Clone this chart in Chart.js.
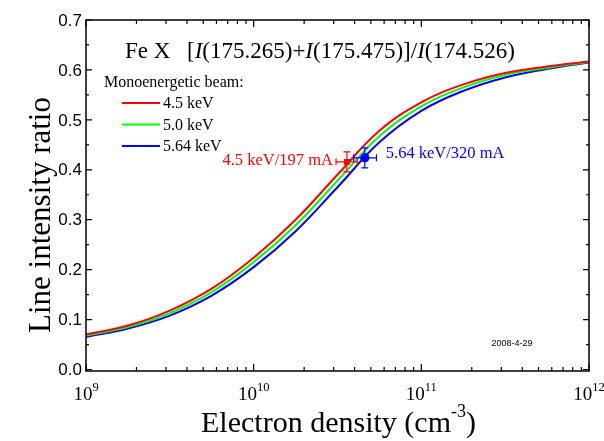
<!DOCTYPE html>
<html>
<head>
<meta charset="utf-8">
<script src="https://cdn.jsdelivr.net/npm/chart.js@4.4.1/dist/chart.umd.min.js"></script>
<style>
  html, body { margin: 0; padding: 0; background: #fff; }
  #wrap { width: 604px; height: 441px; }
</style>
</head>
<body>
<div id="wrap"><canvas id="ratio-chart"></canvas></div>
<script>
// electron density (cm^-3), quarter-decade steps
const density = [1e9, 1.78e9, 3.16e9, 5.62e9, 1e10, 1.78e10, 3.16e10, 5.62e10, 1e11, 1.78e11, 3.16e11, 5.62e11, 1e12];

// line intensity ratio for each beam energy
const ratio45 = [0.070, 0.088, 0.118, 0.162, 0.224, 0.300, 0.390, 0.478, 0.535, 0.571, 0.594, 0.607, 0.617];
const ratio50 = [0.068, 0.085, 0.113, 0.155, 0.215, 0.289, 0.378, 0.467, 0.527, 0.565, 0.590, 0.604, 0.616];
const ratio564 = [0.065, 0.082, 0.108, 0.148, 0.205, 0.277, 0.365, 0.455, 0.518, 0.558, 0.585, 0.602, 0.615];

const beamLabels = ['4.5 keV', '5.0 keV', '5.64 keV'];
const beamColors = ['#ff0000', '#00ff00', '#0000ff'];

// measured points with error bars
const measLabels = ['4.5 keV/197 mA', '5.64 keV/320 mA'];
const measColors = ['#ff0000', '#0000ff'];
const measDensity = [3.6e10, 4.6e10];
const measDensityLow = [3.1e10, 3.95e10];
const measDensityHigh = [4.15e10, 5.4e10];
const measRatio = [0.416, 0.424];
const measRatioErr = [0.02, 0.02];

const yTicks = [0.0, 0.1, 0.2, 0.3, 0.4, 0.5, 0.6, 0.7];
const xTickExp = [9, 10, 11, 12];

const SERIF = '"Liberation Serif", "Times New Roman", serif';
const SANS = '"Liberation Sans", Arial, sans-serif';

function toPoints(ys) {
  return density.map((d, i) => ({ x: d, y: ys[i] }));
}

const datasets = [ratio45, ratio50, ratio564].map((ys, i) => ({
  label: beamLabels[i],
  data: toPoints(ys),
  borderColor: beamColors[i],
  borderWidth: 2,
  pointRadius: 0,
  fill: false,
  tension: 0.4
}));

measDensity.forEach((d, i) => {
  datasets.push({
    label: measLabels[i],
    data: [{ x: d, y: measRatio[i] }],
    showLine: false,
    pointStyle: i === 0 ? 'rect' : 'circle',
    pointRadius: i === 0 ? 4 : 4.5,
    backgroundColor: measColors[i],
    borderColor: measColors[i],
    borderWidth: 0
  });
});

// mixed-style text: parts = [[text, font], ...]
function drawParts(ctx, parts, x, y) {
  parts.forEach(p => {
    ctx.font = p[1];
    ctx.fillText(p[0], x, y);
    x += ctx.measureText(p[0]).width;
  });
  return x;
}

const decorations = {
  id: 'decorations',
  afterDatasetsDraw(chart) {
    const ctx = chart.ctx;
    const xs = chart.scales.x, ys = chart.scales.y;
    ctx.save();
    measDensity.forEach((d, i) => {
      const px = xs.getPixelForValue(d);
      const py = ys.getPixelForValue(measRatio[i]);
      const x0 = xs.getPixelForValue(measDensityLow[i]);
      const x1 = xs.getPixelForValue(measDensityHigh[i]);
      const y0 = ys.getPixelForValue(measRatio[i] - measRatioErr[i]);
      const y1 = ys.getPixelForValue(measRatio[i] + measRatioErr[i]);
      ctx.strokeStyle = measColors[i];
      ctx.lineWidth = 1.2;
      ctx.beginPath();
      ctx.moveTo(x0, py); ctx.lineTo(x1, py);
      ctx.moveTo(px, y0); ctx.lineTo(px, y1);
      ctx.moveTo(x0, py - 3.5); ctx.lineTo(x0, py + 3.5);
      ctx.moveTo(x1, py - 3.5); ctx.lineTo(x1, py + 3.5);
      ctx.moveTo(px - 3.5, y0); ctx.lineTo(px + 3.5, y0);
      ctx.moveTo(px - 3.5, y1); ctx.lineTo(px + 3.5, y1);
      ctx.stroke();
      // marker back on top of its bars
      chart.getDatasetMeta(3 + i).data[0].draw(ctx, chart.chartArea);

      ctx.fillStyle = measColors[i];
      ctx.font = '16.5px ' + SERIF;
      ctx.textBaseline = 'middle';
      if (i === 0) {
        ctx.textAlign = 'right';
        ctx.fillText(measLabels[i], px - 14, py - 1);
      } else {
        ctx.textAlign = 'left';
        ctx.fillText(measLabels[i], px + 21, py - 4);
      }
    });
    ctx.restore();
  },
  afterDraw(chart) {
    const ctx = chart.ctx;
    const a = chart.chartArea;
    const xs = chart.scales.x, ys = chart.scales.y;
    ctx.save();

    // frame
    ctx.strokeStyle = '#000';
    ctx.lineWidth = 1.5;
    ctx.strokeRect(a.left, a.top, a.right - a.left, a.bottom - a.top);

    // ticks, pointing inward on all four sides
    ctx.lineWidth = 1.2;
    ctx.beginPath();
    for (let e = 9; e <= 12; e++) {
      for (let m = 1; m <= 9; m++) {
        if (e === 12 && m > 1) break;
        const px = xs.getPixelForValue(m * Math.pow(10, e));
        const len = m === 1 ? 7 : 4;
        ctx.moveTo(px, a.bottom); ctx.lineTo(px, a.bottom - len);
        ctx.moveTo(px, a.top); ctx.lineTo(px, a.top + len);
      }
    }
    for (let k = 0; k <= 14; k++) {
      const py = ys.getPixelForValue(k * 0.05);
      const len = k % 2 === 0 ? 6 : 3;
      ctx.moveTo(a.left, py); ctx.lineTo(a.left + len, py);
      ctx.moveTo(a.right, py); ctx.lineTo(a.right - len, py);
    }
    ctx.stroke();

    // y tick labels
    ctx.fillStyle = '#000';
    ctx.font = '17px ' + SANS;
    ctx.textAlign = 'right';
    ctx.textBaseline = 'middle';
    yTicks.forEach(v => {
      ctx.fillText(v.toFixed(1), a.left - 4, ys.getPixelForValue(v) + 1);
    });

    // x tick labels 10^n
    ctx.textAlign = 'left';
    ctx.textBaseline = 'alphabetic';
    xTickExp.forEach(e => {
      ctx.font = '19px ' + SERIF;
      const wBase = ctx.measureText('10').width;
      ctx.font = '12.5px ' + SERIF;
      const wExp = ctx.measureText(String(e)).width;
      const px = xs.getPixelForValue(Math.pow(10, e));
      const x0 = px - (wBase + wExp) / 2;
      ctx.font = '19px ' + SERIF;
      ctx.fillText('10', x0, 400);
      ctx.font = '12.5px ' + SERIF;
      ctx.fillText(String(e), x0 + wBase, 391);
    });

    // x axis title with superscript
    ctx.font = '30px ' + SERIF;
    const wMain = ctx.measureText('Electron density (cm').width;
    const wClose = ctx.measureText(')').width;
    ctx.font = '18px ' + SERIF;
    const wSup = ctx.measureText('-3').width;
    const cx = (a.left + a.right) / 2 + 1;
    let tx = cx - (wMain + wSup + wClose) / 2;
    ctx.font = '30px ' + SERIF;
    ctx.fillText('Electron density (cm', tx, 432);
    tx += wMain;
    ctx.font = '18px ' + SERIF;
    ctx.fillText('-3', tx, 417);
    tx += wSup;
    ctx.font = '30px ' + SERIF;
    ctx.fillText(')', tx, 432);

    // y axis title
    ctx.save();
    ctx.translate(50, 215);
    ctx.rotate(-Math.PI / 2);
    ctx.textAlign = 'center';
    ctx.font = '31px ' + SERIF;
    ctx.fillText('Line intensity ratio', 0, 0);
    ctx.restore();

    // line title
    ctx.textAlign = 'left';
    ctx.font = '23px ' + SERIF;
    ctx.fillText('Fe X', 125, 58);
    const up = '23px ' + SERIF, it = 'italic 23px ' + SERIF;
    drawParts(ctx, [['[', up], ['I', it], ['(175.265)+', up], ['I', it],
      ['(175.475)]/', up], ['I', it], ['(174.526)', up]], 187, 58);

    // legend
    ctx.font = '16px ' + SERIF;
    ctx.fillText('Monoenergetic beam:', 104, 87);
    ctx.textBaseline = 'middle';
    beamLabels.forEach((lab, i) => {
      const ly = 103 + i * 21.5;
      ctx.strokeStyle = beamColors[i];
      ctx.lineWidth = 2;
      ctx.beginPath();
      ctx.moveTo(122, ly); ctx.lineTo(160, ly);
      ctx.stroke();
      ctx.fillStyle = '#000';
      ctx.fillText(lab, 163, ly + 1);
    });

    // date stamp
    ctx.font = '9px ' + SANS;
    ctx.textAlign = 'center';
    ctx.fillText('2008-4-29', 512, 344);

    ctx.restore();
  }
};

new Chart(document.getElementById('ratio-chart'), {
  type: 'line',
  data: { datasets: datasets },
  options: {
    responsive: true,
    maintainAspectRatio: false,
    animation: false,
    layout: { padding: { top: 20, right: 15, left: 0, bottom: 0 } },
    plugins: {
      legend: { display: false },
      tooltip: { enabled: false }
    },
    scales: {
      x: {
        type: 'logarithmic',
        min: 1e9,
        max: 1e12,
        ticks: { display: false },
        grid: { display: false },
        border: { display: false },
        afterFit: s => { s.height = 70; }
      },
      y: {
        min: -0.003,
        max: 0.7,
        ticks: { display: false },
        grid: { display: false },
        border: { display: false },
        afterFit: s => { s.width = 86; }
      }
    }
  },
  plugins: [decorations]
});
</script>
</body>
</html>
